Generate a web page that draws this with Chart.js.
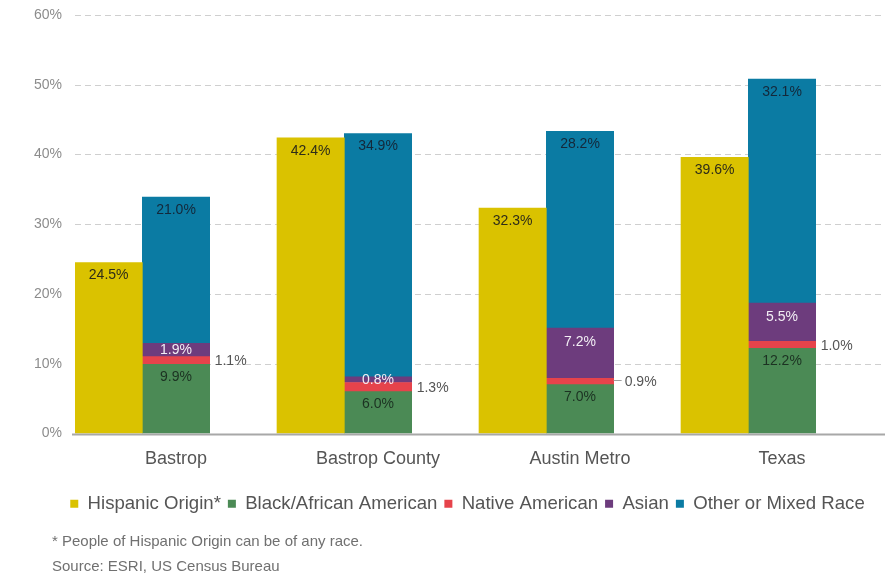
<!DOCTYPE html>
<html>
<head>
<meta charset="utf-8">
<script src="https://cdn.jsdelivr.net/npm/chart.js@4.4.1/dist/chart.umd.min.js"></script>
<style>
  html, body { margin: 0; padding: 0; background: #ffffff; }
  #wrap { position: relative; width: 892px; height: 579px; overflow: hidden; }
  canvas { position: absolute; left: 0; top: 0; }
  .note { position: absolute; left: 52px; font-family: 'Liberation Sans', Arial, sans-serif; font-size: 15px; color: #707070; line-height: 18px; white-space: nowrap; }
</style>
</head>
<body>
<div id="wrap">
  <canvas id="c" width="892" height="579"></canvas>
  <div class="note" style="top:532px;">* People of Hispanic Origin can be of any race.</div>
  <div class="note" style="top:557px;">Source: ESRI, US Census Bureau</div>
</div>
<script>
// ---- data ----
const categories = ['Bastrop', 'Bastrop County', 'Austin Metro', 'Texas'];
const hispanic = [24.5, 42.4, 32.3, 39.6];
const black    = [9.9, 6.0, 7.0, 12.2];
const nativeAm = [1.1, 1.3, 0.9, 1.0];
const asian    = [1.9, 0.8, 7.2, 5.5];
const other    = [21.0, 34.9, 28.2, 32.1];
const spacer   = [0, 0, 0, 0];
const yTickValues = [0, 10, 20, 30, 40, 50, 60];
const seriesNames = ['Hispanic Origin*', 'Black/African American', 'Native American', 'Asian', 'Other or Mixed Race'];
const nativeLeader = [false, false, true, false];

const FONT = "'Liberation Sans', Arial, sans-serif";
const colors = {
  hispanic: '#DAC200',
  black: '#4B8A55',
  native: '#E6434B',
  asian: '#6D3C7D',
  other: '#0B7BA3'
};

const gridPlugin = {
  id: 'gridPlugin',
  afterLayout(chart) {
    // centre the legend under the plot region, as in the original
    const lg = chart.legend;
    if (lg) { lg.left += 26; lg.right += 26; }
  },
  beforeDatasetsDraw(chart) {
    const ctx = chart.ctx, ys = chart.scales.y, a = chart.chartArea;
    ctx.save();
    yTickValues.forEach(v => {
      if (v === 0) return;
      const py = Math.round(ys.getPixelForValue(v)) + 0.5;
      ctx.beginPath();
      ctx.setLineDash([6, 4]);
      ctx.strokeStyle = '#cfcfcf';
      ctx.lineWidth = 1;
      ctx.moveTo(a.left, py);
      ctx.lineTo(a.right + 2, py);
      ctx.stroke();
    });
    ctx.restore();
  },
  afterDatasetsDraw(chart) {
    const ctx = chart.ctx, ys = chart.scales.y, a = chart.chartArea;
    ctx.save();
    const py = ys.getPixelForValue(0) + 1;
    ctx.beginPath();
    ctx.setLineDash([]);
    ctx.strokeStyle = '#a8a8a8';
    ctx.lineWidth = 2;
    ctx.moveTo(a.left - 3, py);
    ctx.lineTo(a.right + 2, py);
    ctx.stroke();

    // data labels
    ctx.font = '14px ' + FONT;
    chart.data.datasets.forEach((ds, i) => {
      const mode = ds.labelMode;
      if (!mode) return;
      const meta = chart.getDatasetMeta(i);
      meta.data.forEach((bar, j) => {
        const v = ds.data[j];
        const p = bar.getProps(['x', 'y', 'base', 'width'], true);
        const top = Math.min(p.y, p.base), bot = Math.max(p.y, p.base);
        const txt = v.toFixed(1) + '%';
        ctx.textBaseline = 'middle';
        if (mode === 'top') {
          ctx.textAlign = 'center';
          ctx.fillStyle = ds.labelColor;
          ctx.fillText(txt, p.x, top + 13);
        } else if (mode === 'inner') {
          ctx.textAlign = 'center';
          ctx.fillStyle = ds.labelColor;
          const cy = Math.min(top + 14, (top + bot) / 2);
          ctx.fillText(txt, p.x, cy);
        } else if (mode === 'right') {
          const cy = (top + bot) / 2;
          let lx = p.x + p.width / 2 + 5;
          if (nativeLeader[j]) {
            ctx.beginPath();
            ctx.strokeStyle = '#a0a0a0';
            ctx.lineWidth = 1;
            ctx.moveTo(p.x + p.width / 2, Math.round(cy) - 0.5);
            ctx.lineTo(p.x + p.width / 2 + 8, Math.round(cy) - 0.5);
            ctx.stroke();
            lx += 6;
          }
          ctx.textAlign = 'left';
          ctx.fillStyle = ds.labelColor;
          ctx.fillText(txt, lx, cy + 1);
        }
      });
    });
    ctx.restore();
  }
};

const chart = new Chart(document.getElementById('c'), {
  type: 'bar',
  data: {
    labels: categories,
    datasets: [
      { label: seriesNames[0], data: hispanic, backgroundColor: colors.hispanic, stack: 'h', labelMode: 'top', labelColor: '#2e2c18' },
      { label: seriesNames[1], data: black, backgroundColor: colors.black, stack: 'r', labelMode: 'top', labelColor: '#1c3222' },
      { label: seriesNames[2], data: nativeAm, backgroundColor: colors.native, stack: 'r', labelMode: 'right', labelColor: '#555555' },
      { label: seriesNames[3], data: asian, backgroundColor: colors.asian, stack: 'r', labelMode: 'inner', labelColor: '#f2eef4' },
      { label: seriesNames[4], data: other, backgroundColor: colors.other, stack: 'r', labelMode: 'top', labelColor: '#14283a' },
      { label: '', data: spacer, backgroundColor: 'rgba(0,0,0,0)', stack: 's' }
    ]
  },
  options: {
    responsive: false,
    animation: false,
    devicePixelRatio: 1,
    barPercentage: 1.0,
    categoryPercentage: 1.0,
    layout: { padding: { top: 15, right: 9, left: 0, bottom: 56 } },
    plugins: {
      tooltip: { enabled: false },
      legend: {
        position: 'bottom',
        labels: {
          font: { family: FONT, size: 18.6 },
          color: '#555555',
          boxWidth: 8,
          boxHeight: 8,
          padding: 7,
          filter: (item) => item.text !== ''
        }
      }
    },
    scales: {
      x: {
        stacked: true,
        grid: { display: false, drawTicks: false },
        border: { display: false },
        ticks: { font: { family: FONT, size: 18 }, color: '#555555', padding: 15, maxRotation: 0 },
        afterFit: (s) => { s.height = 54; }
      },
      y: {
        stacked: true,
        min: 0,
        max: 60,
        grid: { display: false, drawTicks: false },
        border: { display: false },
        afterBuildTicks: (s) => { s.ticks = yTickValues.map(v => ({ value: v })); },
        ticks: {
          font: { family: FONT, size: 14 },
          color: '#8c8c8c',
          padding: 13,
          callback: (v) => v + '%'
        },
        afterFit: (s) => { s.width = 75; s.paddingTop = 8; s.paddingBottom = 8; }
      }
    }
  },
  plugins: [gridPlugin]
});
</script>
</body>
</html>
